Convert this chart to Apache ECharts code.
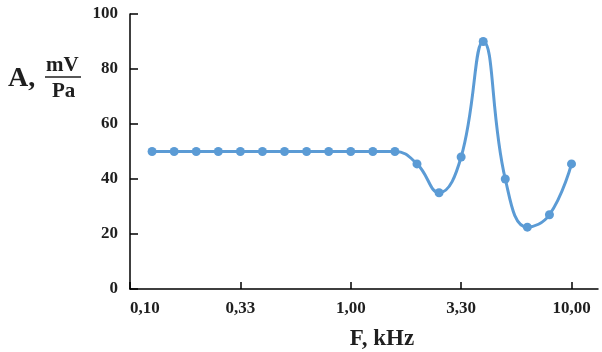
<!DOCTYPE html>
<html>
<head>
<meta charset="utf-8">
<script src="https://cdn.jsdelivr.net/npm/echarts@6/dist/echarts.min.js"></script>
<style>
  html, body { margin: 0; padding: 0; background: #fff; }
  #chart { width: 602px; height: 352px; }
</style>
</head>
<body>
<div id="chart"></div>
<script>
// points are evenly spaced on a log frequency scale, so x is the point index
const pointIndex = [1, 2, 3, 4, 5, 6, 7, 8, 9, 10, 11, 12, 13, 14, 15, 16, 17, 18, 19, 20];
const amplitude = [50, 50, 50, 50, 50, 50, 50, 50, 50, 50, 50, 50, 45.5, 35, 48, 90, 40, 22.5, 27, 45.5];
const tickIndex = [0, 5, 10, 15, 20];
const tickLabels = ['0,10', '0,33', '1,00', '3,30', '10,00'];

const serif = '"Liberation Serif", "Times New Roman", serif';
const ink = '#1f1f1f';

const chart = echarts.init(document.getElementById('chart'), null, { renderer: 'canvas' });

chart.setOption({
  animation: false,
  grid: { left: 130, right: 4, top: 14, bottom: 63, outerBoundsMode: 'none' },
  xAxis: {
    type: 'value',
    min: 0,
    max: 21.2,
    name: 'F, kHz',
    nameLocation: 'middle',
    nameGap: 39,
    nameTextStyle: { fontFamily: serif, fontWeight: 'bold', fontSize: 23, color: ink, padding: [0, 0, 0, 36] },
    axisLine: { lineStyle: { color: '#000', width: 1.5 } },
    axisTick: { inside: true, length: 7, customValues: tickIndex, lineStyle: { color: '#000', width: 1.5 } },
    axisLabel: {
      customValues: tickIndex,
      margin: 11,
      alignMinLabel: 'left',
      fontFamily: serif, fontWeight: 'bold', fontSize: 17, color: ink,
      formatter: v => tickLabels[tickIndex.indexOf(v)] || ''
    },
    splitLine: { show: false }
  },
  yAxis: {
    type: 'value',
    min: 0,
    max: 100,
    interval: 20,
    axisLine: { show: true, lineStyle: { color: '#000', width: 1.5 } },
    axisTick: { show: true, inside: true, length: 8, lineStyle: { color: '#000', width: 1.5 } },
    axisLabel: { margin: 12, fontFamily: serif, fontWeight: 'bold', fontSize: 17, color: ink },
    splitLine: { show: false }
  },
  graphic: [
    { type: 'text', left: 8, top: 65, style: { text: 'A,', font: 'bold 28px ' + serif, fill: ink } },
    { type: 'text', left: 46, top: 55, style: { text: 'mV', font: 'bold 21px ' + serif, fill: ink } },
    { type: 'line', shape: { x1: 45, y1: 77, x2: 81, y2: 77 }, style: { stroke: ink, lineWidth: 1.5 } },
    { type: 'text', left: 52, top: 81, style: { text: 'Pa', font: 'bold 21px ' + serif, fill: ink } }
  ],
  series: [{
    type: 'line',
    data: pointIndex.map((x, i) => [x, amplitude[i]]),
    smooth: 0.45,
    symbol: 'circle',
    symbolSize: 9,
    lineStyle: { color: '#5b9bd5', width: 3 },
    itemStyle: { color: '#5b9bd5' }
  }]
});
</script>
</body>
</html>
